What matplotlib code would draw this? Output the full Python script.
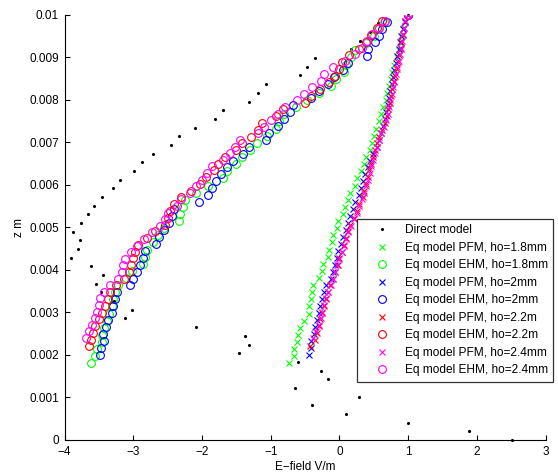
import matplotlib
matplotlib.use("Agg")
import matplotlib.pyplot as plt

plt.rcParams['font.family'] = ['Liberation Sans', 'DejaVu Sans']

# ---------------- data (z in mm, E-field in V/m) ----------------
z_direct = [0.0, 0.204, 0.408, 0.612, 0.816, 1.020, 1.224, 1.429, 1.633, 1.837,
            2.041, 2.245, 2.449, 2.653, 2.857, 3.061, 3.265, 3.469, 3.673, 3.878,
            4.082, 4.286, 4.490, 4.694, 4.898, 5.102, 5.306, 5.510, 5.714, 5.918,
            6.122, 6.327, 6.531, 6.735, 6.939, 7.143, 7.347, 7.551, 7.755, 7.959,
            8.163, 8.367, 8.571, 8.776, 8.980, 9.184, 9.388, 9.592, 9.796, 10.0]
e_direct = [2.51, 1.88, 0.99, 0.10, -0.40, 0.29, -0.64, -0.17, -0.27, -0.61,
            -1.46, -1.32, -1.37, -2.09, -3.12, -3.02, -3.28, -3.47, -3.54, -3.44,
            -3.61, -3.90, -3.80, -3.78, -3.87, -3.76, -3.66, -3.57, -3.46, -3.30,
            -3.19, -2.99, -2.87, -2.71, -2.45, -2.33, -2.10, -1.81, -1.69, -1.32,
            -1.19, -1.07, -0.58, -0.47, -0.35, 0.17, 0.30, 0.44, 0.56, 1.0]

z_18 = [1.800, 1.967, 2.135, 2.302, 2.469, 2.637, 2.804, 2.971, 3.139, 3.306,
        3.473, 3.641, 3.808, 3.976, 4.143, 4.310, 4.478, 4.645, 4.812, 4.980,
        5.147, 5.314, 5.482, 5.649, 5.816, 5.984, 6.151, 6.318, 6.486, 6.653,
        6.820, 6.988, 7.155, 7.322, 7.490, 7.657, 7.824, 7.992, 8.159, 8.327,
        8.494, 8.661, 8.829, 8.996, 9.163, 9.331, 9.498, 9.665, 9.833, 10.000]
z_20 = [2.000, 2.163, 2.327, 2.490, 2.653, 2.816, 2.980, 3.143, 3.306, 3.469,
        3.633, 3.796, 3.959, 4.122, 4.286, 4.449, 4.612, 4.776, 4.939, 5.102,
        5.265, 5.429, 5.592, 5.755, 5.918, 6.082, 6.245, 6.408, 6.571, 6.735,
        6.898, 7.061, 7.224, 7.388, 7.551, 7.714, 7.878, 8.041, 8.204, 8.367,
        8.531, 8.694, 8.857, 9.020, 9.184, 9.347, 9.510, 9.673, 9.837, 10.000]
z_22 = [2.200, 2.359, 2.518, 2.678, 2.837, 2.996, 3.155, 3.314, 3.473, 3.633,
        3.792, 3.951, 4.110, 4.269, 4.429, 4.588, 4.747, 4.906, 5.065, 5.224,
        5.384, 5.543, 5.702, 5.861, 6.020, 6.180, 6.339, 6.498, 6.657, 6.816,
        6.976, 7.135, 7.294, 7.453, 7.612, 7.771, 7.931, 8.090, 8.249, 8.408,
        8.567, 8.727, 8.886, 9.045, 9.204, 9.363, 9.522, 9.682, 9.841, 10.000]
z_24 = [2.400, 2.555, 2.710, 2.865, 3.020, 3.176, 3.331, 3.486, 3.641, 3.796,
        3.951, 4.106, 4.261, 4.416, 4.571, 4.727, 4.882, 5.037, 5.192, 5.347,
        5.502, 5.657, 5.812, 5.967, 6.122, 6.278, 6.433, 6.588, 6.743, 6.898,
        7.053, 7.208, 7.363, 7.518, 7.673, 7.829, 7.984, 8.139, 8.294, 8.449,
        8.604, 8.759, 8.914, 9.069, 9.224, 9.380, 9.535, 9.690, 9.845, 10.000]

pfm_18 = [-0.73, -0.66, -0.66, -0.62, -0.61, -0.57, -0.52, -0.45, -0.45, -0.42,
          -0.40, -0.39, -0.30, -0.26, -0.24, -0.16, -0.15, -0.11, -0.09, -0.04,
          -0.02, 0.05, 0.08, 0.12, 0.16, 0.22, 0.25, 0.31, 0.35, 0.38,
          0.44, 0.47, 0.50, 0.53, 0.57, 0.60, 0.63, 0.67, 0.69, 0.72,
          0.75, 0.77, 0.80, 0.84, 0.86, 0.89, 0.91, 0.93, 0.96, 1.00]
ehm_18 = [-3.61, -3.55, -3.52, -3.45, -3.46, -3.43, -3.38, -3.35, -3.31, -3.30,
          -3.26, -3.22, -3.10, -3.02, -2.86, -2.83, -2.80, -2.71, -2.64, -2.55,
          -2.34, -2.32, -2.28, -2.24, -2.08, -1.91, -1.69, -1.63, -1.50, -1.42,
          -1.30, -1.20, -1.06, -0.93, -0.88, -0.80, -0.63, -0.47, -0.30, -0.13,
          -0.05, 0.06, 0.10, 0.17, 0.23, 0.38, 0.50, 0.56, 0.65, 1.0]
pfm_20 = [-0.45, -0.42, -0.41, -0.37, -0.35, -0.33, -0.30, -0.28, -0.26, -0.23,
          -0.19, -0.13, -0.09, -0.07, -0.04, -0.02, 0.02, 0.05, 0.09, 0.12,
          0.16, 0.20, 0.23, 0.28, 0.31, 0.34, 0.37, 0.41, 0.45, 0.49,
          0.54, 0.58, 0.61, 0.63, 0.66, 0.68, 0.70, 0.72, 0.74, 0.76,
          0.78, 0.80, 0.82, 0.84, 0.86, 0.88, 0.90, 0.92, 0.95, 1.00]
ehm_20 = [-3.48, -3.47, -3.42, -3.44, -3.40, -3.37, -3.31, -3.30, -3.26, -3.24,
          -3.05, -3.00, -2.95, -2.90, -2.86, -2.83, -2.67, -2.62, -2.55, -2.48,
          -2.44, -2.40, -2.05, -1.91, -1.86, -1.79, -1.72, -1.63, -1.55, -1.41,
          -1.32, -1.07, -1.03, -0.90, -0.80, -0.72, -0.67, -0.42, -0.30, -0.16,
          -0.08, 0.05, 0.12, 0.40, 0.42, 0.51, 0.57, 0.62, 0.69, 1.0]
pfm_22 = [-0.43, -0.35, -0.33, -0.30, -0.28, -0.25, -0.23, -0.20, -0.17, -0.14,
          -0.10, -0.06, -0.02, 0.00, 0.03, 0.06, 0.09, 0.12, 0.16, 0.21,
          0.25, 0.29, 0.34, 0.36, 0.38, 0.41, 0.43, 0.46, 0.49, 0.51,
          0.54, 0.58, 0.62, 0.66, 0.69, 0.71, 0.73, 0.75, 0.77, 0.79,
          0.81, 0.83, 0.85, 0.87, 0.89, 0.90, 0.92, 0.94, 0.96, 1.00]
ehm_22 = [-3.65, -3.62, -3.58, -3.55, -3.50, -3.45, -3.41, -3.36, -3.34, -3.25,
          -3.13, -3.06, -3.03, -3.00, -2.97, -2.93, -2.80, -2.68, -2.54, -2.50,
          -2.46, -2.40, -2.30, -2.16, -2.03, -1.94, -1.83, -1.76, -1.66, -1.50,
          -1.42, -1.28, -1.19, -1.13, -0.92, -0.82, -0.50, -0.42, -0.28, -0.15,
          -0.06, 0.00, 0.04, 0.14, 0.28, 0.38, 0.46, 0.55, 0.62, 1.0]
pfm_24 = [-0.38, -0.34, -0.30, -0.27, -0.25, -0.22, -0.19, -0.16, -0.13, -0.09,
          -0.06, -0.03, 0.00, 0.04, 0.07, 0.10, 0.13, 0.17, 0.21, 0.25,
          0.29, 0.33, 0.36, 0.39, 0.41, 0.44, 0.46, 0.49, 0.52, 0.54,
          0.57, 0.61, 0.65, 0.68, 0.70, 0.72, 0.74, 0.76, 0.78, 0.80,
          0.82, 0.84, 0.86, 0.88, 0.89, 0.91, 0.93, 0.94, 0.96, 1.00]
ehm_24 = [-3.68, -3.64, -3.60, -3.56, -3.53, -3.50, -3.48, -3.42, -3.34, -3.22,
          -3.17, -3.15, -3.12, -3.03, -2.95, -2.85, -2.72, -2.61, -2.54, -2.49,
          -2.37, -2.30, -2.18, -2.08, -2.00, -1.93, -1.86, -1.70, -1.59, -1.52,
          -1.45, -1.18, -1.10, -1.00, -0.90, -0.79, -0.62, -0.52, -0.40, -0.27,
          -0.22, -0.10, 0.08, 0.22, 0.33, 0.40, 0.47, 0.57, 0.66, 1.0]

labels = ["Direct model",
          "Eq model PFM, ho=1.8mm", "Eq model EHM, ho=1.8mm",
          "Eq model PFM, ho=2mm", "Eq model EHM, ho=2mm",
          "Eq model PFM, ho=2.2m", "Eq model EHM, ho=2.2m",
          "Eq model PFM, ho=2.4mm", "Eq model EHM, ho=2.4mm"]
x_ticks = [-4, -3, -2, -1, 0, 1, 2, 3]
y_ticks = [0, 0.001, 0.002, 0.003, 0.004, 0.005, 0.006, 0.007, 0.008, 0.009, 0.01]
y_ticklabels = ["0", "0.001", "0.002", "0.003", "0.004", "0.005", "0.006",
                "0.007", "0.008", "0.009", "0.01"]

# ---------------- plot ----------------
fig = plt.figure(figsize=(5.58, 4.72), dpi=100)
ax = fig.add_axes([64.5 / 558, 1 - 440 / 472, (545.7 - 64.5) / 558, (440 - 14.7) / 472])

def m(zs):
    return [v * 1e-3 for v in zs]

ms_o, ms_x = 5.6, 4.0
ax.plot(e_direct, m(z_direct), '.', color='k', ms=2.5, ls='none', label=labels[0], clip_on=False)
series = [
    (pfm_18, z_18, 'x', (0, 1, 0)), (ehm_18, z_18, 'o', (0, 1, 0)),
    (pfm_20, z_20, 'x', (0, 0, 1)), (ehm_20, z_20, 'o', (0, 0, 1)),
    (pfm_22, z_22, 'x', (1, 0, 0)), (ehm_22, z_22, 'o', (1, 0, 0)),
    (pfm_24, z_24, 'x', (1, 0, 1)), (ehm_24, z_24, 'o', (1, 0, 1)),
]
for i, (xs, zs, mk, col) in enumerate(series):
    if mk == 'o':
        ax.plot(xs, m(zs), 'o', mfc='none', mec=col, ms=ms_o, mew=0.8, ls='none',
                label=labels[i + 1])
    else:
        ax.plot(xs, m(zs), 'x', color=col, ms=ms_x, mew=0.8, ls='none',
                label=labels[i + 1])

ax.set_xlim(-4, 3)
ax.set_ylim(0, 0.01)
ax.set_xticks(x_ticks)
ax.set_xticklabels([str(t) if t >= 0 else "\u2212" + str(-t) for t in x_ticks])
ax.set_yticks(y_ticks)
ax.set_yticklabels(y_ticklabels)
for s in ['top', 'right']:
    ax.spines[s].set_visible(False)
for s in ['left', 'bottom']:
    ax.spines[s].set_linewidth(0.8)
ax.tick_params(direction='in', length=3.5, width=0.8, labelsize=8.5, colors='k')
ax.tick_params(axis='x', pad=4.5)
ax.tick_params(axis='y', pad=4)
ax.set_xlabel("E\u2212field V/m", fontsize=8.5, labelpad=2)
ax.set_ylabel("z m", fontsize=8.5, labelpad=3)

leg = ax.legend(loc='upper left', bbox_to_anchor=(357 / 558, 1 - 219 / 472),
                bbox_transform=fig.transFigure, fontsize=8.6, frameon=True,
                fancybox=False, edgecolor='k', borderaxespad=0, borderpad=0.45,
                handlelength=3.35, handletextpad=0.2, labelspacing=0.46,
                markerscale=1.0)
leg.get_frame().set_linewidth(0.9)

fig.savefig("out.png", dpi=100)
